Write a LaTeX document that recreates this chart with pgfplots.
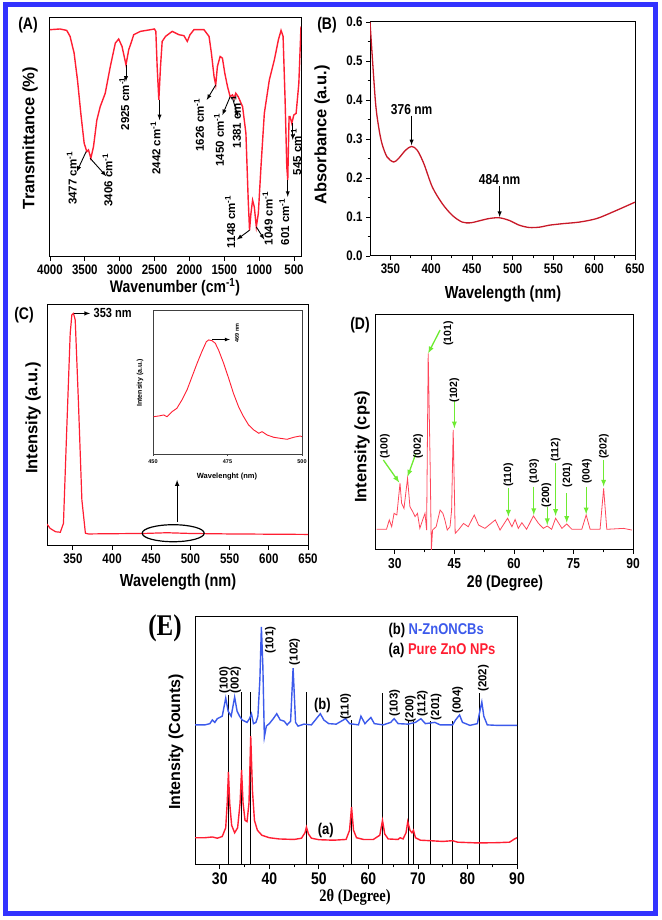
\documentclass[border=0pt]{standalone}
\usepackage{fontspec}
\setmainfont{Liberation Sans}
\newfontfamily\tnr{Liberation Serif}
\usepackage{pgfplots}
\pgfplotsset{compat=1.18}
\definecolor{frameblue}{RGB}{50,50,255}
\definecolor{cred}{RGB}{255,30,50}
\definecolor{bred}{RGB}{200,25,40}
\definecolor{dred}{RGB}{255,70,90}
\definecolor{eblue}{RGB}{60,90,235}
\definecolor{agreen}{RGB}{110,235,50}
\newcommand{\fs}[1]{\fontsize{#1}{#1}\selectfont\bfseries}
\tikzset{hz/.style={yscale=1.2}}
\pgfplotsset{panel/.style={scale only axis, anchor=south west, clip mode=individual,
  axis line style={line width=1pt}, tick style={line width=0.8pt, black},
  tick align=outside, tick pos=left, major tick length=4pt, minor tick length=2.5pt,
  /pgf/number format/assume math mode=true, /pgf/number format/1000 sep={}}}
\begin{document}
\begin{tikzpicture}[x=1pt,y=1pt]
\useasboundingbox (0,0) rectangle (661,920);
% ---------------- (A) FTIR ----------------
\begin{axis}[panel, at={(50pt,663pt)}, width=251pt, height=239pt, x dir=reverse,
  xmin=400, xmax=4000, ymin=0, ymax=100, xtick={500,1000,...,4000}, ytick=\empty,
  ticklabel style={font=\fs{11.5}, hz}]
\addplot[cred, line width=1.4pt] coordinates {
(4000,95.1)(3856,95.4)(3760,94.8)(3712,92.3)(3654,85.3)(3606,74.1)(3558,60.1)(3510,47.6)
(3472,44.1)(3448,44.8)(3414,41.3)(3376,46.2)(3328,57.3)(3280,62.9)(3208,68.5)(3135,79.7)
(3063,89.5)(3015,91.2)(2967,88.1)(2910,80.4)(2871,86.7)(2838,89.5)(2799,93.0)(2703,94.4)
(2559,95.1)(2502,95.4)(2482,94.4)(2463,79.7)(2439,65.7)(2415,79.7)(2391,90.2)(2343,92.3)
(2247,94.4)(2151,93.0)(2079,92.6)(2031,90.2)(1992,93.0)(1935,95.1)(1791,95.1)(1719,92.3)
(1685,85.3)(1647,75.5)(1623,72.0)(1599,79.7)(1560,83.9)(1527,83.2)(1493,76.9)(1454,71.3)
(1416,67.1)(1383,67.8)(1359,66.4)(1335,68.5)(1301,67.1)(1238,62.9)(1190,51.7)(1157,23.8)
(1138,11.2)(1118,18.2)(1094,23.8)(1070,21.0)(1041,12.6)(1012,18.2)(974,37.8)(926,60.1)
(854,74.1)(782,82.5)(724,90.9)(686,94.8)(657,92.3)(628,65.7)(604,37.8)(590,32.2)
(571,58.7)(557,58.7)(532,55.9)(503,59.4)(470,60.1)(431,72.7)(400,96.5)};
\begin{scope}[font=\fs{11.5}]
\node[rotate=90] at (axis cs:3688,32.9) {3477 cm\textsuperscript{-1}};
\node[rotate=90] at (axis cs:3174,32.2) {3406 cm\textsuperscript{-1}};
\node[rotate=90] at (axis cs:2934,64.1) {2925 cm\textsuperscript{-1}};
\node[rotate=90] at (axis cs:2487,45.5) {2442 cm\textsuperscript{-1}};
\node[rotate=90] at (axis cs:1863,55.2) {1626 cm\textsuperscript{-1}};
\node[rotate=90] at (axis cs:1575,49.0) {1450 cm\textsuperscript{-1}};
\node[rotate=90] at (axis cs:1334,56.6) {1381 cm\textsuperscript{-1}};
\node[rotate=90] at (axis cs:1416,14.7) {1148 cm\textsuperscript{-1}};
\node[rotate=90] at (axis cs:878,16.1) {1049 cm\textsuperscript{-1}};
\node[rotate=90] at (axis cs:640,14.7) {601 cm\textsuperscript{-1}};
\node[rotate=90] at (axis cs:470,44.0) {545 cm\textsuperscript{-1}};
\end{scope}
\begin{scope}[-latex, line width=0.9pt]
\draw (axis cs:3481,44.1) -- (axis cs:3616,35.7);
\draw (axis cs:3424,41.3) -- (axis cs:3193,33.8);
\draw (axis cs:2910,80.4) -- (axis cs:2910,73.4);
\draw (axis cs:2429,65.7) -- (axis cs:2429,57.3);
\draw (axis cs:1623,72.0) -- (axis cs:1752,65.7);
\draw (axis cs:1416,67.1) -- (axis cs:1527,59.4);
\draw (axis cs:1382,66.4) -- (axis cs:1300,58.5);
\draw (axis cs:1138,11.2) -- (axis cs:1320,7.3);
\draw (axis cs:1041,12.6) -- (axis cs:926,7.3);
\draw (axis cs:590,32.2) -- (axis cs:590,25.2);
\draw (axis cs:518,56.0) -- (axis cs:518,49.0);
\end{scope}
\end{axis}
% ---------------- (B) UV-vis ----------------
\begin{axis}[panel, at={(370pt,664pt)}, width=265pt, height=234pt,
  xmin=325, xmax=650, ymin=0, ymax=0.6, xtick={350,400,...,650}, ytick={0,0.1,...,0.6},
  minor x tick num=1, minor y tick num=1, ticklabel style={font=\fs{11.5}, hz},
  yticklabel style={/pgf/number format/.cd, fixed, fixed zerofill, precision=1}]
\addplot[bred, line width=1.3pt, smooth] coordinates {
(325,0.6)(331.5,0.40)(335.6,0.331)(339.7,0.288)(345.9,0.254)(354.1,0.241)(360,0.25)
(368.5,0.271)(376,0.281)(383,0.271)(391,0.237)(401.4,0.177)(413.7,0.134)(426,0.104)
(438,0.087)(448.4,0.085)(458.7,0.09)(471,0.096)(483.5,0.098)(496,0.091)(508,0.079)
(520.5,0.073)(533,0.074)(545,0.079)(562,0.083)(582,0.087)(603,0.096)(623,0.113)(650,0.138)};
\node[font=\fs{12}, hz] at (axis cs:376,0.375) {376 nm};
\node[font=\fs{12}, hz] at (axis cs:484,0.195) {484 nm};
\draw[-latex, line width=0.9pt] (axis cs:376,0.36) -- (axis cs:376,0.284);
\draw[-latex, line width=0.9pt] (axis cs:484,0.18) -- (axis cs:484,0.1);
\end{axis}
% ---------------- (C) PL ----------------
\begin{axis}[panel, at={(47pt,374pt)}, width=261pt, height=241pt,
  xmin=317, xmax=650, ymin=0, ymax=100, xtick={350,400,...,650}, ytick=\empty,
  ticklabel style={font=\fs{11.5}, hz}]
\addplot[cred, line width=1.2pt] coordinates {
(317,9.1)(321,7.3)(328,5.9)(334,5.7)(338,9.4)(342,46.7)(346.6,88.2)(348.7,95.9)(350.8,96.5)
(353,93.8)(357,60.6)(361.5,19.1)(366,5.3)(370,5.0)(400,5.1)(440,5.2)(470,5.5)(500,5.2)
(550,5.0)(600,4.9)(650,4.8)};
\draw[line width=1.2pt] (axis cs:478,5.3) ellipse [x radius=31pt, y radius=8.5pt];
\draw[-latex, line width=1pt] (axis cs:483,10) -- (axis cs:483,27.4);
\draw[-latex, line width=1pt] (axis cs:351,96.5) -- (axis cs:372,96.5);
\node[font=\fs{11}, hz, anchor=west] at (axis cs:372,96.5) {353 nm};
\end{axis}
% inset
\begin{axis}[panel, at={(153pt,466pt)}, width=149pt, height=144pt,
  axis line style={line width=0.6pt, black!75}, tick style={line width=0.5pt, black!75},
  major tick length=2pt, axis background/.style={fill=white},
  xmin=450, xmax=500, ymin=0, ymax=100, xtick={450,475,500}, ytick=\empty,
  ticklabel style={font=\fs{5.5}}]
\addplot[cred, line width=0.9pt] coordinates {
(450.2,25.9)(451.9,26.4)(453.6,27.1)(454.7,25.9)(456.4,29.4)(458,31.7)(459.7,37.5)(461.4,44.4)
(463.1,53.7)(464.8,63)(466.4,71.1)(467.9,78)(468.7,79.2)(469.8,78.7)(470.9,76.9)(472,72.2)
(473.7,63)(475.4,52.5)(477,42.1)(478.7,32.9)(480.4,25.9)(482.1,20.1)(483.8,16.7)(485.5,14.4)
(486.6,15.5)(488.3,13.2)(490.5,11.6)(492.7,10.9)(495,10.2)(497.2,11.6)(499.4,12.5)(500,12)};
\draw[-latex, line width=0.7pt] (axis cs:469.8,79.5) -- (axis cs:475.8,79.5);
\node[font=\fs{5.5}, rotate=90] at (axis cs:478.2,84) {469 nm};
\end{axis}
% ---------------- (D) XRD ----------------
\begin{axis}[panel, at={(375pt,370pt)}, width=258pt, height=235pt,
  xmin=25, xmax=90, ymin=0, ymax=100, xtick={30,45,60,75,90}, minor x tick num=1, ytick=\empty,
  ticklabel style={font=\fs{12}, hz}]
\addplot[dred, line width=0.8pt] coordinates {
(25.4,8.8)(27.9,8.8)(28.6,12.8)(29.2,9.9)(29.8,15.6)(30.5,14.9)(31.3,28.4)(31.7,19.9)(32.3,17.7)
(33.2,30.5)(33.8,18.4)(34.5,16.3)(35.1,14.2)(35.7,15.6)(36.3,9.2)(37.0,12.8)(37.6,15.6)(38.0,8.5)
(38.4,83.7)(38.9,35.5)(39.2,0)(39.5,8.5)(40.4,9.9)(41.4,17.0)(42.1,15.6)(42.6,12.8)(43.2,8.5)
(43.9,9.9)(44.3,17)(44.7,51.1)(45.2,7.1)(46.0,8.5)(47.3,11.3)(48.5,9.9)(50.0,14.9)(51.1,10.6)
(52.7,9.2)(55.3,12.8)(56.5,8.5)(58.4,13.5)(59.5,9.9)(60.3,13)(61.1,9.2)(62.0,11.6)(63.2,8.8)
(64.9,14.5)(66.2,11.3)(67.4,9.2)(68.4,10.2)(69.5,8.8)(70.5,13.5)(72.1,9.2)(73.3,11.1)(74.6,8.8)
(77.1,8.8)(78.2,14.9)(79.2,8.8)(81.7,8.8)(82.6,26.2)(83.4,8.8)(87.6,9.2)(89.7,8.5)};
\begin{scope}[agreen, -latex, line width=1.3pt]
\draw (axis cs:27.1,38.3) -- (axis cs:31.1,28.7);
\draw (axis cs:35.3,41.1) -- (axis cs:33.2,31.2);
\draw (axis cs:41.4,93.6) -- (axis cs:38.4,83.7);
\draw (axis cs:45,63.8) -- (axis cs:45,51.8);
\draw (axis cs:58.6,26.2) -- (axis cs:58.6,14.2);
\draw (axis cs:65,27) -- (axis cs:65,14.9);
\draw (axis cs:68.4,18.4) -- (axis cs:68.4,10.6);
\draw (axis cs:70.5,36.9) -- (axis cs:70.5,14.5);
\draw (axis cs:73.3,24.1) -- (axis cs:73.3,11.6);
\draw (axis cs:78.2,27) -- (axis cs:78.2,15.2);
\draw (axis cs:82.6,38.3) -- (axis cs:82.6,27);
\end{scope}
\begin{scope}[font=\fs{10.5}]
\node[rotate=90] at (axis cs:27.5,44) {(100)};
\node[rotate=90] at (axis cs:35.9,44) {(002)};
\node[rotate=90] at (axis cs:43.5,92.2) {(101)};
\node[rotate=90] at (axis cs:45,68) {(102)};
\node[rotate=90] at (axis cs:58.6,31.9) {(110)};
\node[rotate=90] at (axis cs:65.1,33.3) {(103)};
\node[rotate=90] at (axis cs:68.2,23.4) {(200)};
\node[rotate=90] at (axis cs:70.5,42.6) {(112)};
\node[rotate=90] at (axis cs:73.5,31.9) {(201)};
\node[rotate=90] at (axis cs:78.4,33.3) {(004)};
\node[rotate=90] at (axis cs:82.7,44) {(202)};
\end{scope}
\end{axis}
% ---------------- (E) XRD comparison ----------------
\begin{axis}[panel, at={(195pt,55pt)}, width=322pt, height=248pt,
  xmin=25, xmax=90, ymin=0, ymax=100, xtick={30,40,...,90}, minor x tick num=1, ytick=\empty,
  ticklabel style={font=\fs{14}, hz}]
\addplot[black, line width=1pt, ycomb, mark=none] coordinates {
(31.7,68.5)(34.4,69.8)(36.3,69.8)(47.5,69.8)(56.6,58.5)(62.9,69.2)(68.0,57.9)(69.1,57.9)
(72.6,57.9)(77.0,57.9)(82.5,69.2)};
\addplot[cred, line width=1.4pt] coordinates {
(25,11)(27,11)(28.5,11.3)(29.5,10.8)(30.5,11.5)(31.2,15)(31.5,25)(31.75,37.5)(32.0,25)(32.4,16)
(33,13)(33.6,15)(34.1,25)(34.4,38.3)(34.7,25)(35.1,18)(35.5,17.5)(35.9,25)(36.25,52)(36.6,30)
(37,18)(37.6,14)(38.5,12)(40,11)(42,10.5)(45,10.3)(46.5,10.8)(47.2,13)(47.5,15.3)(47.9,12.5)
(48.5,10.8)(50,10.2)(53,10)(55.5,10.3)(56.2,14)(56.6,23.4)(57,14)(57.6,11)(59,10.3)(61,10.3)
(62.3,12)(62.85,18)(63.3,12.5)(64,10.5)(66,10.3)(66.4,11)(67,10.5)(67.6,13)(67.95,17.5)
(68.4,14)(68.8,13)(69.1,14)(69.5,11)(70.5,10)(72.5,9.8)(75,9.5)(77,9.8)(78,9.2)(82,8.9)
(86,9)(88.5,9.2)(89.5,10.5)(90,11)};
\addplot[eblue, line width=1.4pt] coordinates {
(25,56.5)(27,56.5)(28,57)(28.5,58.5)(29,57.5)(29.5,59)(30,59.5)(30.5,60)(31.2,67.3)(31.7,62)
(32.3,60)(33.0,67.7)(33.5,62)(34,60)(34.5,58.5)(35,58)(35.5,57.5)(36,59)(36.4,61)(36.8,57)
(37.3,57.5)(37.7,60)(38.1,75)(38.4,96)(38.7,80)(39.0,51.6)(39.4,56)(40,57)(40.8,59)(41.5,61)
(42.2,58.5)(43,58)(43.6,56.5)(44.3,58)(44.8,79.4)(45.3,57.5)(45.8,56)(47,56.8)(48.5,56.5)
(50.3,61)(51,58.5)(52,57)(53.5,56.8)(55.4,59)(56.2,57)(58,56.5)(58.5,60)(59.3,57)(60.5,59.5)
(61.2,57)(63,56.5)(64.5,57.5)(65.2,59)(66,57)(68,56.8)(69.5,57.5)(70.6,59)(71.5,57)(73.4,57.5)
(74.5,56.5)(77,56.5)(77.6,58.5)(78.4,60.5)(79,57.5)(80.5,56.3)(82,57)(82.6,63)(82.9,65.7)
(83.3,60)(84,56.5)(86,56.3)(90,56.3)};
\begin{scope}[font=\fs{11.5}]
\node[rotate=90] at (axis cs:31.0,74.6) {(100)};
\node[rotate=90] at (axis cs:33.2,74.6) {(002)};
\node[rotate=90] at (axis cs:40.2,90.7) {(101)};
\node[rotate=90] at (axis cs:45.1,86) {(102)};
\node[rotate=90] at (axis cs:55.4,63.8) {(110)};
\node[rotate=90] at (axis cs:65.3,65.4) {(103)};
\node[rotate=90] at (axis cs:68.5,63) {(200)};
\node[rotate=90] at (axis cs:70.9,65) {(112)};
\node[rotate=90] at (axis cs:73.7,63.8) {(201)};
\node[rotate=90] at (axis cs:78,66.5) {(004)};
\node[rotate=90] at (axis cs:83.2,75.3) {(202)};
\end{scope}
\node[font=\fs{13}, hz] at (axis cs:50.7,64.5) {(b)};
\node[font=\fs{13}, hz] at (axis cs:51.4,14) {(a)};
\end{axis}
% ---------------- outer labels ----------------
\node[font=\fs{14}, hz] at (28pt,895pt) {(A)};
\node[font=\fs{16.5}, rotate=90] at (30pt,782pt) {Transmittance (\%)};
\node[font=\fs{14}, hz] at (175pt,633pt) {Wavenumber (cm\textsuperscript{-1})};
\node[font=\fs{14}, hz] at (327pt,895pt) {(B)};
\node[font=\fs{16.5}, rotate=90] at (322pt,785pt) {Absorbance (a.u.)};
\node[font=\fs{14.5}, hz] at (503pt,626pt) {Wavelength (nm)};
\node[font=\fs{14}, hz] at (24pt,605pt) {(C)};
\node[font=\fs{16.5}, rotate=90] at (33pt,502pt) {Intensity (a.u.)};
\node[font=\fs{14.5}, hz] at (178pt,338pt) {Wavelength (nm)};
\node[font=\fs{7.5}] at (227pt,443pt) {Wavelenght (nm)};
\node[font=\fs{7}, rotate=90] at (140pt,537pt) {Intensity (a.u.)};
\node[font=\fs{14}, hz] at (360pt,595pt) {(D)};
\node[font=\fs{16.5}, rotate=90] at (362pt,473pt) {Intensity (cps)};
\node[font=\fs{14}, hz] at (505pt,337pt) {2θ (Degree)};
\node[font=\tnr\fs{25}, hz] at (165pt,292pt) {(E)};
\node[font=\fs{16}, rotate=90] at (176pt,178pt) {Intensity (Counts)};
\node[font=\tnr\fs{14.5}, hz] at (355pt,23pt) {2θ (Degree)};
\node[font=\fs{13}, hz, anchor=west] at (385pt,290pt) {(b) \textcolor{eblue}{N-ZnONCBs}};
\node[font=\fs{13}, hz, anchor=west] at (385pt,270pt) {(a) \textcolor{cred}{Pure ZnO NPs}};
% frame
\draw[frameblue, line width=5pt] (5.5,915) rectangle (655,6.5);
\end{tikzpicture}
\end{document}
